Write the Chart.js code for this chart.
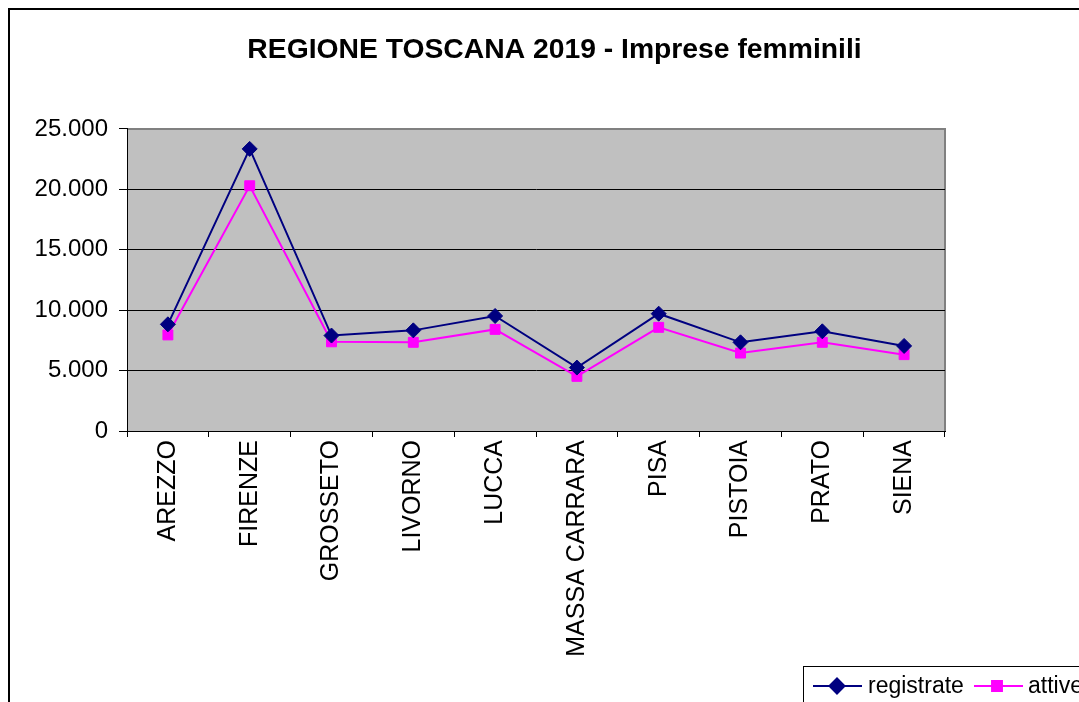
<!DOCTYPE html>
<html>
<head>
<meta charset="utf-8">
<script src="https://cdn.jsdelivr.net/npm/chart.js@4/dist/chart.umd.min.js"></script>
<style>
  html, body { margin: 0; padding: 0; background: #fff; overflow: hidden; width: 1079px; height: 702px; }
  #frame { position: absolute; left: 8px; top: 8px; width: 1089px; height: 740px; border: 2px solid #000; background: #fff; }
  canvas { display: block; }
</style>
</head>
<body>
<div id="frame"><canvas id="c" width="1089" height="740"></canvas></div>
<script>
const titleText = 'REGIONE TOSCANA 2019 - Imprese femminili';
const categories = ['AREZZO', 'FIRENZE', 'GROSSETO', 'LIVORNO', 'LUCCA', 'MASSA CARRARA', 'PISA', 'PISTOIA', 'PRATO', 'SIENA'];
const seriesNames = ['registrate', 'attive'];
const registrate = [8830, 23350, 7900, 8330, 9520, 5250, 9710, 7340, 8250, 7040];
const attive = [7950, 20300, 7380, 7340, 8410, 4520, 8580, 6450, 7340, 6320];
const yTicks = [0, 5000, 10000, 15000, 20000, 25000];

const FONT = "'Liberation Sans', Arial, sans-serif";
const NAVY = '#000080';
const MAGENTA = '#FF00FF';

function fmt(v) {
  return String(v).replace(/\B(?=(\d{3})+(?!\d))/g, '.');
}

const plotBg = {
  id: 'plotBg',
  afterLayout(chart) {
    const t = chart.titleBlock;
    if (t) { t.left = 0; t.right = chart.width; t.width = chart.width; }
  },
  beforeDraw(chart) {
    const a = chart.chartArea, ctx = chart.ctx;
    ctx.save();
    ctx.fillStyle = '#C0C0C0';
    ctx.fillRect(a.left, a.top, a.right - a.left, a.bottom - a.top);
    ctx.strokeStyle = '#808080';
    ctx.lineWidth = 2;
    ctx.beginPath();
    ctx.moveTo(a.left, a.top);
    ctx.lineTo(a.right, a.top);
    ctx.lineTo(a.right, a.bottom);
    ctx.stroke();
    ctx.restore();
  },
  afterDraw(chart) {
    const ctx = chart.ctx;
    ctx.save();
    const bx = 793, by = 656;
    ctx.strokeStyle = '#000';
    ctx.lineWidth = 1;
    ctx.strokeRect(bx + 0.5, by + 0.5, 400, 60);
    const cy = 676;
    const items = [
      { name: seriesNames[0], color: NAVY, style: 'rectRot', radius: 7.5, x0: 803, x1: 852, px: 827, tx: 858 },
      { name: seriesNames[1], color: MAGENTA, style: 'rect', radius: 7, x0: 964, x1: 1013, px: 987, tx: 1018 }
    ];
    ctx.font = '23px ' + FONT;
    ctx.textBaseline = 'middle';
    ctx.textAlign = 'left';
    for (const it of items) {
      ctx.strokeStyle = it.color;
      ctx.lineWidth = 2;
      ctx.beginPath();
      ctx.moveTo(it.x0, cy);
      ctx.lineTo(it.x1, cy);
      ctx.stroke();
      ctx.fillStyle = it.color;
      Chart.helpers.drawPoint(ctx, { pointStyle: it.style, radius: it.radius, borderWidth: 1, rotation: 0 }, it.px, cy);
      ctx.fill();
      ctx.fillStyle = '#000';
      ctx.fillText(it.name, it.tx, cy + 1);
    }
    ctx.restore();
  }
};

new Chart(document.getElementById('c'), {
  type: 'line',
  data: {
    labels: categories,
    datasets: [
      {
        label: seriesNames[0],
        data: registrate,
        borderColor: NAVY,
        backgroundColor: NAVY,
        borderWidth: 2,
        pointStyle: 'rectRot',
        pointRadius: 7.5,
        pointBorderWidth: 1,
        tension: 0
      },
      {
        label: seriesNames[1],
        data: attive,
        borderColor: MAGENTA,
        backgroundColor: MAGENTA,
        borderWidth: 2,
        pointStyle: 'rect',
        pointRadius: 7,
        pointBorderWidth: 1,
        tension: 0
      }
    ]
  },
  options: {
    responsive: false,
    animation: false,
    layout: { padding: { left: 0, right: 154, top: 0, bottom: 79 } },
    plugins: {
      legend: { display: false },
      tooltip: { enabled: false },
      title: {
        display: true,
        text: titleText,
        color: '#000',
        font: { family: FONT, size: 28.3, weight: 'bold', lineHeight: 1.2 },
        padding: { top: 23.5, bottom: 61.5 }
      }
    },
    scales: {
      x: {
        type: 'category',
        offset: true,
        grid: { display: true, drawOnChartArea: false, drawTicks: true, tickLength: 6, color: '#000', offset: true },
        border: { display: true, color: '#000', width: 1 },
        ticks: {
          autoSkip: false,
          maxRotation: 90,
          minRotation: 90,
          padding: 3,
          color: '#000',
          font: { family: FONT, size: 25 }
        },
        afterFit(scale) { scale.height = 240; }
      },
      y: {
        min: 0,
        max: 25000,
        afterBuildTicks(scale) { scale.ticks = yTicks.map(v => ({ value: v })); },
        grid: {
          color: (c) => (c.tick && c.tick.value === 25000 ? '#808080' : '#000'),
          tickColor: '#000',
          tickLength: 8,
          lineWidth: 1
        },
        border: { display: true, color: '#000', width: 1 },
        ticks: {
          padding: 11,
          color: '#000',
          font: { family: FONT, size: 24 },
          callback: (v) => fmt(v)
        },
        afterFit(scale) { scale.width = 117; }
      }
    }
  },
  plugins: [plotBg]
});
</script>
</body>
</html>
